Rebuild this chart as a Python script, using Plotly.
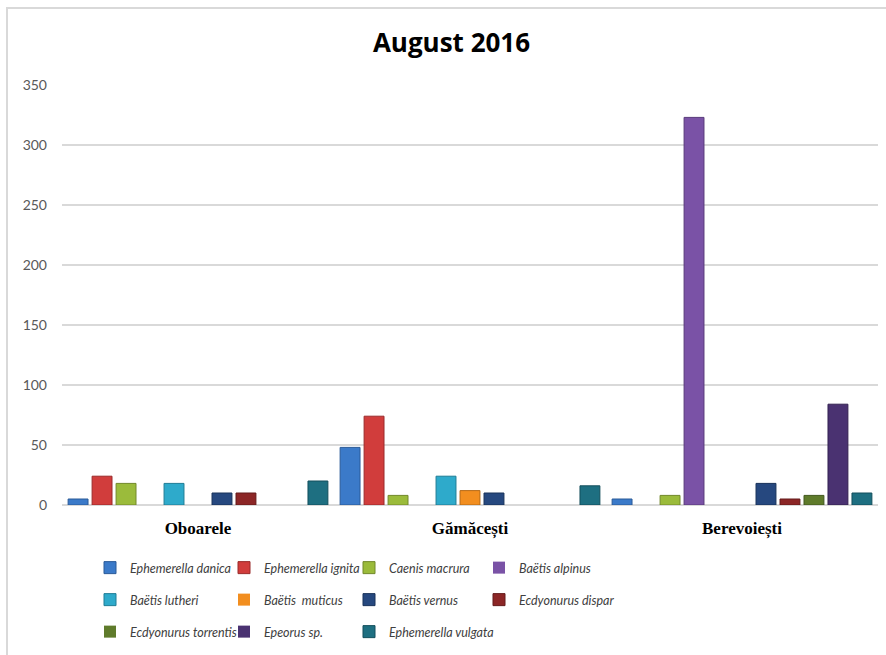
import plotly.graph_objects as go

# Sampling sites (categories)
sites = ["Oboarele", "Gămăcești", "Berevoiești"]

# Mayfly taxa
taxa = [
    "Ephemerella danica", "Ephemerella ignita", "Caenis macrura", "Baëtis alpinus",
    "Baëtis lutheri", "Baëtis  muticus", "Baëtis vernus", "Ecdyonurus dispar",
    "Ecdyonurus torrentis", "Epeorus sp.", "Ephemerella vulgata",
]

# Counts per taxon at each site (Oboarele, Gămăcești, Berevoiești)
ephemerella_danica = [5, 48, 5]
ephemerella_ignita = [24, 74, 0]
caenis_macrura = [18, 8, 8]
baetis_alpinus = [0, 0, 323]
baetis_lutheri = [18, 24, 0]
baetis_muticus = [0, 12, 0]
baetis_vernus = [10, 10, 18]
ecdyonurus_dispar = [10, 0, 5]
ecdyonurus_torrentis = [0, 0, 8]
epeorus_sp = [0, 0, 84]
ephemerella_vulgata = [20, 16, 10]

series = [
    ephemerella_danica, ephemerella_ignita, caenis_macrura, baetis_alpinus,
    baetis_lutheri, baetis_muticus, baetis_vernus, ecdyonurus_dispar,
    ecdyonurus_torrentis, epeorus_sp, ephemerella_vulgata,
]

colors = [
    "#3b7ac9", "#d13d3c", "#9bbb3b", "#7a52a6",
    "#2eaacb", "#f28e1f", "#26487f", "#8c2626",
    "#5f7b2b", "#4a3271", "#1e6f81",
]
outlines = [
    "#2a5a98", "#9a2b2a", "#72892b", "#58397a",
    "#1f7d96", "#b56915", "#18325a", "#641a1a",
    "#435920", "#332250", "#134f5c",
]

# page layout in pixels: the plotting region spans the whole lower page so the
# legend entries sit inside it; the value axis occupies only its upper part
FW, FH = 886, 655
L, R, T, B = 62, 8, 85, 5
GW, GH = FW - L - R, FH - T - B
ZERO_PX = 505


def px_x(px):
    return (px - L) / GW


def px_y(py):
    return (FH - B - py) / GH


# legend grid: 4 columns, 3 rows, each entry is its own small legend
col_text_px = [130, 264, 389, 519]
row_mid_px = [568, 600, 632]
legend_font = dict(family="Lato", size=12.5, color="#404040", style="italic")

fig = go.Figure()
legends = {}
for i, (name, vals, col, oc) in enumerate(zip(taxa, series, colors, outlines)):
    key = "legend" if i == 0 else f"legend{i + 1}"
    fig.add_trace(go.Bar(
        x=sites, y=vals, name=name, legend=key,
        marker=dict(color=col, line=dict(color=oc, width=[1 if v > 0 else 0 for v in vals])),
    ))
    legends[key] = dict(
        orientation="v", xanchor="left", yanchor="middle",
        x=px_x(col_text_px[i % 4] - 40), y=px_y(row_mid_px[i // 4]),
        font=legend_font, bgcolor="rgba(0,0,0,0)", itemwidth=30,
    )

fig.update_layout(
    width=FW, height=FH,
    margin=dict(l=L, r=R, t=T, b=B, autoexpand=False),
    paper_bgcolor="white", plot_bgcolor="white",
    title=dict(text="<b>August 2016</b>", x=451.5 / FW, xanchor="center",
               y=1 - 43 / FH, yanchor="middle",
               font=dict(family="Open Sans", size=26, color="#000000")),
    barmode="group", bargap=0.03, bargroupgap=0.17,
    showlegend=True,
    xaxis=dict(
        showgrid=False, showline=False, ticks="", automargin=False,
        tickfont=dict(family="Liberation Serif", size=17, color="#000000", weight="bold"),
        ticklabelstandoff=11,
    ),
    yaxis=dict(
        domain=[px_y(ZERO_PX), 1], automargin=False,
        range=[0, 350], dtick=50, showgrid=True, gridcolor="#d9d9d9", gridwidth=1.5,
        zeroline=True, zerolinecolor="#d9d9d9", zerolinewidth=2,
        showline=False, ticks="", ticklabelstandoff=14,
        tickfont=dict(family="Lato", size=14, color="#595959"),
    ),
    shapes=[dict(
        type="rect", xref="paper", yref="paper",
        x0=px_x(7), x1=px_x(900), y0=px_y(670), y1=px_y(8),
        line=dict(color="#d9d9d9", width=2), fillcolor="rgba(0,0,0,0)", layer="below",
    )],
)
fig.update_layout(**legends)

fig.write_html("out.html")
